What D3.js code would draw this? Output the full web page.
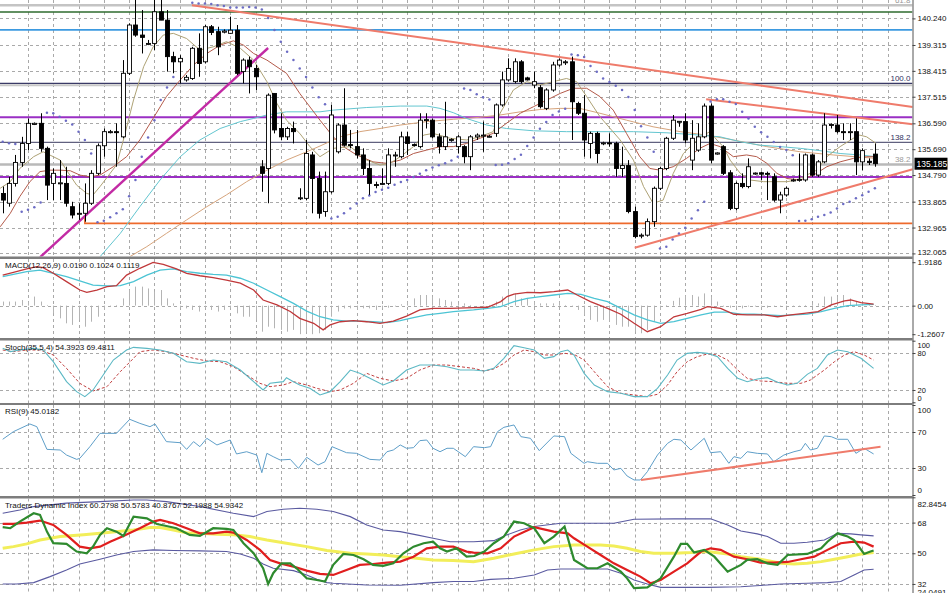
<!DOCTYPE html>
<html><head><meta charset="utf-8">
<script src="https://cdn.jsdelivr.net/npm/d3@7"></script>
<style>
html,body{margin:0;padding:0;background:#fff;overflow:hidden;}
svg{display:block;font-family:"Liberation Sans",Arial,sans-serif;}
</style></head><body>
<svg id="c" width="948" height="593"></svg>
<script>
// ---------- DATA ----------
// candles: [open, high, low, close]
const candles = [
[134.15,134.39,133.46,133.92],[133.81,134.73,133.69,134.50],[134.50,135.49,134.39,135.23],[135.23,136.12,135.08,135.89],
[135.89,136.76,135.66,136.59],[136.55,136.62,136.53,136.59],[136.59,136.94,135.60,135.72],[135.72,135.78,133.92,134.44],
[134.50,135.02,133.92,134.85],[134.50,135.31,133.92,134.52],[134.50,135.08,133.69,133.81],[133.69,133.86,133.28,133.40],
[133.44,133.81,133.23,133.46],[133.46,134.50,133.17,133.81],[133.81,134.96,133.75,134.85],[134.85,135.89,134.79,135.81],
[135.81,136.41,135.43,136.30],[136.28,136.36,136.24,136.30],[136.30,136.59,135.08,136.28],[136.12,138.79,136.07,138.33],
[138.33,140.07,138.27,140.01],[140.01,140.90,139.60,139.66],[139.66,140.53,139.02,139.58],[139.37,139.49,139.31,139.37],
[139.37,140.90,139.14,140.47],[140.47,140.90,140.18,140.18],[140.18,140.53,138.39,138.91],[138.91,139.08,138.33,138.73],
[138.73,138.96,137.98,138.85],[138.10,138.27,138.04,138.19],[138.15,139.25,138.10,139.20],[139.20,139.72,138.21,138.67],
[138.73,140.01,138.67,139.95],[139.95,140.01,139.66,139.75],[139.78,139.95,138.96,139.25],[139.76,139.86,139.72,139.80],
[139.72,140.30,139.70,139.83],[139.83,140.01,138.27,138.33],[138.39,138.85,137.98,138.79],[138.79,138.91,137.63,138.56],
[138.50,138.62,137.75,138.21],[135.08,135.31,134.21,134.85],[135.02,137.63,133.81,137.57],[137.63,137.63,136.24,136.36],
[136.41,136.94,136.01,136.12],[136.12,136.47,136.01,136.41],[136.41,136.65,135.89,136.30],[133.98,134.33,133.92,134.00],
[133.98,136.01,133.92,135.54],[135.49,135.60,133.46,134.67],[134.67,134.91,133.28,133.46],[133.52,134.91,133.34,134.21],
[134.21,137.23,134.15,136.88],[135.60,136.59,135.54,136.53],[136.53,137.81,135.78,135.83],[135.85,136.36,135.72,135.83],
[135.78,136.36,135.37,135.49],[135.49,135.72,134.79,135.02],[135.02,135.31,134.10,134.50],[134.46,134.56,134.33,134.44],
[134.48,135.02,134.44,134.50],[134.50,135.72,134.44,135.49],[135.47,135.60,135.08,135.49],[135.43,136.30,135.37,136.12],
[136.12,136.30,135.49,135.89],[135.85,135.89,135.78,135.83],[135.78,136.94,135.72,136.70],[136.70,136.94,136.41,136.72],
[136.70,136.76,136.07,136.12],[136.12,136.24,135.54,135.78],[135.78,137.34,135.66,136.12],[136.01,136.07,135.95,136.03],
[135.78,136.18,135.54,136.12],[135.78,135.83,135.20,135.43],[135.43,136.18,134.96,136.12],[136.12,136.24,136.01,136.18],
[136.16,136.65,135.60,136.18],[136.14,136.18,136.10,136.14],[136.24,137.28,136.12,137.23],[137.23,138.39,137.17,138.10],
[138.10,138.85,138.04,138.50],[138.04,138.85,137.98,138.73],[138.73,138.79,137.98,138.04],[138.17,138.21,138.08,138.10],
[137.92,138.39,137.81,138.04],[137.83,137.92,137.11,137.17],[137.11,137.81,137.05,137.75],[137.75,138.73,137.69,138.62],
[138.62,138.85,138.56,138.79],[138.71,138.79,138.62,138.73],[138.73,138.91,136.01,137.34],[137.28,137.34,136.88,136.94],
[136.94,137.57,135.43,136.01],[135.89,136.30,135.37,136.24],[136.24,136.30,135.20,135.54],[135.89,135.95,135.83,135.91],
[135.91,136.24,135.78,135.89],[135.89,135.95,134.73,135.02],[135.02,135.78,134.73,135.12],[135.12,135.31,133.46,133.52],
[133.52,133.69,132.59,132.65],[132.68,132.76,132.59,132.70],[132.70,133.28,132.65,133.17],[133.17,134.39,132.99,134.33],
[134.33,135.08,134.27,135.02],[135.02,136.12,134.96,136.07],[136.07,136.88,136.01,136.70],[136.64,136.67,136.47,136.66],
[136.65,136.94,135.89,136.01],[135.31,136.70,134.96,136.07],[135.66,136.59,135.60,136.12],[136.12,137.28,136.07,137.19],
[137.19,137.28,135.20,135.31],[135.52,135.58,135.50,135.56],[135.78,135.83,134.79,134.85],[134.87,134.96,133.57,133.63],
[133.63,134.56,133.57,134.50],[134.50,134.85,134.33,134.39],[134.39,135.37,134.33,135.08],[134.83,134.88,134.80,134.86],
[134.87,134.91,134.62,134.82],[134.85,134.91,133.92,134.84],[134.73,134.85,133.86,133.92],[133.92,134.21,133.46,134.10],
[134.10,134.39,134.04,134.33],[134.60,134.67,134.56,134.62],[134.62,135.54,134.56,134.64],[134.62,135.54,134.56,135.49],
[135.49,135.54,134.73,134.79],[134.79,135.31,134.73,135.25],[135.25,136.94,135.20,136.53],[136.53,136.59,136.41,136.55],
[136.53,136.88,136.24,136.30],[136.30,136.59,136.01,136.28],[136.30,136.59,136.01,136.30],[136.30,136.76,134.79,135.25],
[135.25,135.72,134.96,135.64],[135.27,135.37,135.14,135.23],[135.52,135.89,135.08,135.185]
];
// Parabolic SAR [bar, price]
const sar = [[0,135.95],[1,135.90],[2,135.87],[3,133.51],[4,133.58],[5,133.67],[6,133.84],[7,136.96],[8,136.94],[9,136.82],
[10,136.68],[11,136.55],[12,136.30],[13,136.01],[14,135.54],[15,133.15],[16,133.20],[17,133.32],[18,133.46],[19,133.60],
[20,134.05],[21,134.62],[22,135.43],[23,136.10],[24,136.70],[25,137.40],[26,137.84],[27,138.20],[30,140.78],[31,140.76],
[32,140.76],[33,140.74],[34,140.70],[35,140.67],[36,140.62],[37,140.62],[38,140.62],[39,140.64],[40,140.62],[41,140.55],
[42,140.25],[43,139.84],[44,139.43],[45,139.08],[46,138.79],[47,138.50],[48,138.20],[49,137.84],[50,137.50],[51,137.25],
[52,133.28],[53,133.34],[54,133.46],[55,133.63],[56,133.80],[57,133.98],[58,134.08],[59,134.20],[60,134.28],[61,134.35],
[62,134.45],[63,134.55],[64,134.62],[65,134.72],[66,134.84],[67,134.96],[68,135.05],[69,135.13],[70,135.20],[71,135.30],
[72,135.43],[73,137.80],[74,137.75],[75,137.60],[76,137.50],[77,137.42],[78,135.14],[79,135.15],[80,135.20],[81,135.35],
[82,135.50],[83,135.80],[84,136.10],[85,136.40],[86,136.64],[87,136.88],[88,137.00],[89,137.10],[90,138.98],[91,138.96],
[92,138.90],[93,138.58],[94,138.38],[95,138.15],[96,138.03],[97,137.90],[98,137.75],[99,137.51],[100,137.05],[101,136.49],
[102,136.10],[103,135.60],[104,132.24],[105,132.30],[106,132.55],[107,132.76],[108,132.96],[109,133.28],[110,133.57],[111,133.86],
[112,137.35],[113,137.43],[114,137.43],[115,137.34],[116,137.26],[117,136.99],[118,136.76],[119,136.47],[120,136.28],[121,136.12],
[122,135.94],[123,135.77],[124,135.66],[125,135.48],[126,133.19],[127,133.20],[128,133.25],[129,133.34],[130,133.40],[131,133.49],
[132,133.63],[133,133.78],[134,133.86],[135,133.98],[136,134.09],[137,134.21],[138,134.33]];
// Moving averages [bar, price]
const maFast = [[-0.4,134.33],[1.2,134.56],[2.7,135.02],[4.9,135.43],[6.4,135.60],[8.0,135.43],[9.1,135.31],[10.1,134.96],[11.7,134.44],[13.3,134.15],[14.3,134.10],[15.4,134.39],[17.0,134.85],[18.0,135.14],[19.1,136.01],[20.7,137.40],[22.3,138.56],[23.8,139.25],[25.4,139.66],[27.0,139.72],[29.1,139.54],[31.2,139.14],[33.3,139.25],[35.4,139.43],[37.6,139.20],[39.7,138.79],[41.8,138.04],[43.4,137.28],[44.9,136.70],[47.0,136.24],[48.6,135.78],[50.2,135.43],[52.3,135.72],[55.0,135.78],[57.6,135.31],[59.7,135.14],[61.3,135.20],[62.9,135.43],[65.0,135.78],[66.6,136.18],[68.1,136.24],[70.8,136.07],[73.4,136.01],[75.5,136.12],[77.6,136.30],[78.7,136.94],[80.8,137.75],[82.9,138.04],[85.0,137.92],[87.1,138.04],[89.2,138.15],[90.8,138.04],[92.4,137.52],[94.5,136.82],[97.7,136.01],[99.8,135.31],[101.4,134.39],[102.9,133.81],[104.5,133.92],[106.1,134.85],[107.7,135.54],[109.3,135.89],[110.9,136.18],[111.9,136.30],[113.0,136.01],[114.0,135.78],[115.1,135.31],[116.7,134.85],[118.2,134.62],[120.4,134.56],[122.5,134.56],[124.1,134.56],[125.6,134.62],[127.2,134.79],[128.8,134.96],[130.4,135.43],[132.5,135.78],[134.6,136.07],[135.6,136.18],[136.7,136.12],[138.2,135.89]];
const maMid = [[-0.4,132.99],[1.2,133.46],[2.7,134.04],[4.3,134.56],[5.9,134.91],[7.5,134.96],[9.1,134.96],[10.7,134.94],[12.2,134.79],[13.8,134.73],[15.4,134.79],[17.5,135.08],[19.6,135.43],[21.7,136.01],[23.8,136.76],[25.9,137.52],[28.1,138.10],[30.2,138.62],[32.3,139.02],[34.4,139.31],[36.5,139.46],[38.1,139.31],[39.7,139.02],[41.8,138.79],[44.9,138.33],[47.0,137.63],[50.2,136.70],[52.3,136.12],[53.9,135.78],[56.0,135.49],[58.6,135.25],[60.7,135.20],[62.9,135.31],[65.0,135.54],[67.1,135.66],[69.2,135.78],[71.3,135.78],[73.4,135.89],[75.5,136.07],[77.6,136.24],[79.7,136.59],[81.9,136.94],[84.0,137.17],[86.1,137.40],[88.2,137.63],[90.3,137.81],[92.4,137.81],[94.5,137.52],[96.6,137.05],[98.7,136.24],[100.8,135.43],[102.4,135.02],[104.0,134.96],[106.1,135.08],[108.2,135.37],[110.3,135.72],[111.9,135.89],[113.5,135.78],[115.6,135.43],[117.7,135.49],[119.3,135.43],[120.9,135.20],[122.5,134.85],[124.1,134.67],[126.2,134.62],[128.3,134.79],[130.4,135.08],[132.5,135.25],[134.6,135.37],[136.7,135.43],[138.2,135.43]];
const maSlow = [[15.4,131.95],[18.6,132.76],[21.7,133.69],[24.9,134.62],[28.1,135.43],[31.2,136.01],[34.4,136.41],[37.6,136.65],[39.7,136.76],[41.8,136.88],[44.9,136.99],[50.2,136.99],[52.3,137.05],[57.6,137.14],[62.9,137.19],[67.1,137.19],[69.2,137.11],[71.3,136.96],[73.4,136.76],[76.6,136.53],[79.7,136.41],[84.0,136.33],[89.2,136.30],[94.5,136.30],[99.8,136.30],[105.1,136.26],[110.3,136.18],[113.5,136.12],[116.7,135.95],[119.8,135.83],[123.0,135.78],[126.2,135.72],[129.3,135.64],[132.5,135.54],[135.6,135.49],[138.2,135.43]];
const maLong = [[20.1,131.95],[22.8,132.30],[25.9,132.76],[29.1,133.23],[32.3,133.69],[35.4,134.10],[38.6,134.56],[41.8,134.96],[44.9,135.31],[48.1,135.60],[50.2,135.80],[53.4,136.12],[56.5,136.30],[59.7,136.41],[62.9,136.53],[67.1,136.65],[71.3,136.73],[75.5,136.80],[78.7,136.88],[81.9,136.99],[85.0,137.07],[88.2,137.11],[91.3,137.11],[94.5,136.94],[98.7,136.70],[102.9,136.47],[107.2,136.30],[111.4,136.18],[115.6,136.01],[120.9,135.78],[126.2,135.60],[131.4,135.49],[138.2,135.37]];
// horizontal levels (price) and fibonacci labels
const levelPrices = [140.70, 140.46, 139.84, 137.98, 136.80, 135.93, 135.16, 134.72];
const supportLevel = [13, 133.11, 133.30];      // start bar, price, tick top
const fibLabels = [["61.8",140.70],["100.0",137.98],["138.2",135.93],["38.2",135.16]];
// trend lines [bar1, price1, bar2, price2]
const trendLines = [[29.95,140.70,144,137.16],[111.3,137.43,144,136.56],[100.0,132.26,144,134.99]];
const channelLine = [5.9,131.93,42.0,139.21];
const priceTicks = [140.240,139.315,138.415,137.515,136.590,135.690,134.790,133.865,132.965,132.065];
const lastPrice = 135.185;
// MACD
const macdLine = [[0,1.35],[1.7,1.47],[3.8,1.62],[5.4,1.72],[6.4,1.68],[8.0,1.43],[10.1,1.06],[12.2,0.69],[13.3,0.59],[14.9,0.69],[16.5,0.84],[18.0,0.88],[19.6,1.35],[21.7,1.65],[23.8,1.91],[25.4,1.82],[27.5,1.62],[29.1,1.43],[31.2,1.32],[33.3,1.24],[35.4,1.13],[37.6,0.99],[39.7,0.69],[41.2,0.25],[43.4,0.03],[45.5,-0.26],[47.0,-0.56],[49.2,-0.78],[50.7,-1.07],[51.8,-0.85],[53.4,-0.71],[55.5,-0.66],[57.6,-0.71],[59.7,-0.78],[61.8,-0.68],[63.9,-0.46],[66.0,-0.19],[68.1,-0.12],[70.8,-0.12],[74.5,-0.09],[76.7,-0.07],[78.8,0.18],[79.8,0.40],[80.9,0.51],[83.0,0.59],[85.1,0.57],[87.2,0.62],[89.4,0.69],[90.9,0.47],[93.0,0.18],[95.7,-0.12],[97.8,-0.38],[99.9,-0.78],[102.0,-1.15],[104.1,-0.93],[106.2,-0.49],[108.3,-0.34],[110.5,-0.16],[111.5,-0.04],[113.6,-0.12],[115.7,-0.38],[117.8,-0.41],[120.5,-0.41],[122.6,-0.49],[124.7,-0.41],[126.8,-0.34],[129.0,-0.26],[131.1,0.03],[133.2,0.21],[134.2,0.25],[135.8,0.13],[137.8,0.07]];
const macdSignal = [[0,1.28],[1.7,1.38],[3.8,1.50],[5.9,1.57],[8.0,1.43],[10.1,1.28],[12.2,1.09],[14.3,0.91],[16.5,0.87],[18.6,0.88],[20.7,1.06],[22.8,1.35],[24.9,1.57],[27.0,1.62],[29.1,1.50],[31.2,1.43],[33.3,1.38],[35.4,1.35],[37.6,1.21],[39.7,0.99],[41.8,0.69],[43.9,0.40],[46.0,0.10],[48.1,-0.24],[50.2,-0.49],[52.3,-0.63],[54.4,-0.68],[56.5,-0.68],[58.6,-0.71],[60.8,-0.75],[62.9,-0.66],[65.0,-0.53],[67.1,-0.41],[69.2,-0.34],[71.3,-0.26],[74.5,-0.19],[76.7,-0.12],[78.8,-0.04],[80.9,0.18],[83.0,0.32],[85.1,0.40],[87.2,0.47],[89.4,0.54],[91.5,0.50],[93.6,0.32],[95.7,0.18],[97.8,-0.12],[99.9,-0.41],[102.0,-0.63],[104.1,-0.78],[106.2,-0.71],[108.3,-0.56],[110.5,-0.41],[112.6,-0.29],[114.7,-0.29],[116.8,-0.37],[118.9,-0.38],[121.0,-0.41],[123.1,-0.44],[125.2,-0.41],[127.3,-0.37],[129.5,-0.26],[131.6,-0.12],[133.7,0.0],[135.8,0.03],[137.8,0.06]];
const macdHist = [0.18,0.18,0.18,0.25,0.18,0.40,0.18,0.03,-0.34,-0.56,-0.78,-0.85,-0.63,-0.93,-0.71,-0.49,-0.19,-0.04,0.03,0.32,
0.69,0.84,0.84,0.76,0.62,0.69,0.32,0.10,-0.12,-0.12,-0.19,-0.26,-0.12,-0.19,-0.26,-0.19,-0.12,-0.34,-0.49,-0.49,
-0.63,-1.15,-0.93,-1.00,-1.07,-1.15,-1.07,-1.26,-1.15,-1.26,-1.22,-1.07,-0.49,-0.26,-0.12,-0.12,-0.19,-0.12,-0.12,-0.19,
-0.12,-0.09,-0.04,0.06,0.18,0.32,0.47,0.47,0.40,0.32,0.25,0.18,0.10,0.10,0.03,0,-0.04,0.03,0.18,0.40,
0.62,0.54,0.32,0.32,0.18,0.10,0.10,0.10,0.18,0.03,-0.04,-0.19,-0.41,-0.63,-0.71,-0.63,-0.71,-0.85,-0.93,-0.93,
-1.15,-1.22,-1.07,-0.71,-0.19,0.03,0.21,0.35,0.44,0.47,0.40,0.54,0.40,0.18,-0.04,-0.09,-0.12,-0.12,-0.04,-0.04,
-0.04,-0.09,-0.04,-0.04,-0.04,-0.04,-0.04,0.03,0.10,0.10,0.40,0.40,0.40,0.47,0.32,0.18,0.10,0.03,0.03];
const macdTicks = [1.9186, 0.00, -1.2607];
// Stochastic
const stochMain = [[0,87.6],[1.2,82.2],[2.7,84.9],[4.9,87.6],[6.4,84.9],[8.0,65.9],[10.1,33.5],[11.7,17.3],[13.0,9.2],[14.3,20.0],[15.9,44.3],[17.5,68.6],[19.6,84.9],[20.7,89.2],[22.8,87.6],[24.9,84.9],[27.0,79.5],[29.1,65.9],[31.2,63.2],[33.3,68.6],[35.4,65.9],[37.6,52.4],[39.7,33.5],[41.2,20.0],[42.3,30.8],[44.4,33.5],[44.9,40.0],[46.0,33.5],[47.0,28.1],[48.6,22.7],[50.2,11.9],[51.8,17.3],[53.4,33.5],[55.0,52.4],[56.5,47.0],[58.1,38.9],[60.2,28.1],[61.8,34.6],[63.9,52.4],[66.0,60.5],[68.1,60.5],[70.3,57.8],[72.4,52.4],[74.5,52.4],[76.2,50.8],[77.7,55.1],[79.3,71.4],[80.9,91.9],[82.5,88.6],[84.1,84.9],[85.7,71.4],[87.2,74.1],[88.3,82.2],[89.4,84.9],[90.4,76.8],[92.0,47.0],[93.6,28.1],[95.7,17.3],[97.8,14.6],[99.9,9.2],[102.0,9.2],[103.6,22.7],[105.2,44.3],[106.7,68.6],[108.3,79.5],[109.9,81.1],[111.5,79.5],[113.1,74.1],[114.7,55.1],[116.3,38.9],[117.8,33.5],[119.4,37.8],[121.0,40.0],[122.6,32.4],[124.2,28.1],[125.7,30.8],[127.3,45.4],[128.9,55.1],[130.5,76.8],[132.1,84.9],[133.7,82.2],[135.8,71.4],[137.8,55.1]];
const stochSignal = [[0,84.9],[1.7,82.2],[3.8,84.9],[5.9,84.9],[8.0,76.8],[10.1,55.1],[12.2,30.8],[14.3,18.4],[16.5,25.4],[18.6,49.7],[20.7,71.4],[21.7,82.2],[23.8,84.9],[25.9,82.2],[28.1,76.8],[30.2,71.4],[32.3,67.0],[34.4,65.9],[36.5,57.8],[38.6,44.3],[40.7,30.8],[42.3,25.4],[44.4,28.1],[46.0,33.5],[48.1,28.1],[49.7,22.7],[51.8,17.3],[53.4,20.0],[55.5,30.8],[57.6,47.0],[59.7,38.9],[61.8,34.6],[63.9,38.9],[66.0,52.4],[68.1,60.5],[70.3,60.5],[72.4,57.8],[74.5,55.1],[76.2,50.8],[77.7,54.1],[79.3,63.2],[80.9,76.8],[82.5,84.9],[84.1,82.2],[85.7,76.8],[87.2,76.8],[88.9,79.5],[90.4,77.8],[92.0,68.6],[93.6,49.7],[95.7,25.4],[97.8,14.6],[99.9,11.9],[102.0,9.2],[103.6,13.0],[105.2,28.1],[106.7,49.7],[108.3,65.9],[109.9,74.1],[111.5,78.4],[113.1,76.8],[114.7,68.6],[116.3,52.4],[117.8,38.9],[119.9,34.6],[122.0,33.5],[124.2,30.8],[126.3,30.8],[127.8,36.2],[130.0,52.4],[131.6,65.9],[133.2,76.8],[134.7,82.2],[136.3,76.8],[137.8,68.6]];
const stochTicks = [100, 80, 20, 0];
// RSI
const rsi = [[0,61.9],[1.7,70.4],[4.3,78.9],[5.4,75.9],[7.0,50.7],[9.1,50.0],[10.1,44.4],[11.7,39.6],[12.2,40.7],[13.8,53.7],[15.4,68.5],[18.0,68.5],[20.1,84.1],[21.7,79.6],[23.3,75.9],[24.1,78.9],[25.9,59.3],[28.1,58.1],[29.1,50.7],[30.2,59.3],[31.2,53.7],[32.3,63.0],[33.9,55.6],[36.0,61.1],[37.0,45.6],[38.6,48.1],[40.2,44.4],[41.0,24.8],[41.8,46.3],[42.8,42.6],[43.9,38.9],[45.5,39.6],[46.8,29.6],[48.1,41.9],[49.9,33.3],[51.0,37.0],[52.1,53.7],[54.4,47.0],[56.0,46.3],[58.1,39.6],[59.7,38.9],[60.8,48.1],[61.8,50.0],[62.9,55.6],[63.9,51.9],[65.0,52.6],[66.0,60.4],[67.1,61.1],[68.1,51.9],[69.2,48.1],[70.3,51.9],[71.3,51.9],[73.2,42.6],[74.5,53.7],[76.2,52.6],[77.2,53.7],[78.3,70.4],[79.3,75.2],[80.9,77.8],[82.0,64.8],[83.5,63.0],[84.9,49.3],[87.2,65.6],[88.9,64.8],[89.9,46.3],[92.0,35.2],[92.5,37.0],[94.1,35.2],[95.7,35.2],[96.7,27.8],[97.8,29.6],[98.8,21.1],[99.9,16.7],[100.9,16.7],[102.0,25.9],[103.6,44.4],[105.2,57.4],[106.2,61.9],[107.3,61.1],[108.9,50.0],[111.0,63.0],[112.0,47.0],[113.6,48.1],[114.9,35.2],[115.7,42.6],[116.8,40.7],[117.8,48.1],[119.4,46.3],[121.0,45.6],[122.0,37.0],[123.6,44.4],[125.2,48.1],[126.3,50.0],[127.0,57.4],[127.8,50.0],[128.9,51.9],[130.0,65.6],[131.1,64.8],[132.1,61.9],[133.7,61.9],[135.0,46.3],[136.3,51.9],[137.8,45.6]];
const rsiTrend = [101.0,16.7,138.9,53.7];
const rsiTicks = [100, 70, 30, 0];
// Traders Dynamic Index
const tdiUpper = [[0,73.5],[2.7,75.4],[4.9,77.4],[7.5,78.4],[10.1,79.4],[15.4,80.3],[20.7,81.3],[22.8,81.3],[25.9,80.3],[31.2,77.4],[36.5,73.5],[39.7,71.5],[41.8,74.5],[44.4,75.8],[47.0,76.4],[49.7,75.8],[52.3,74.5],[55.0,71.5],[57.6,66.6],[60.2,63.7],[62.9,62.7],[65.5,60.8],[68.1,58.8],[70.8,56.8],[74.5,56.8],[77.7,57.4],[79.8,60.8],[81.9,63.7],[84.1,65.7],[88.3,67.6],[96.7,67.6],[99.9,70.0],[106.2,70.2],[112.0,70.2],[114.7,66.6],[116.8,63.1],[119.4,61.4],[121.0,59.8],[123.1,55.9],[125.2,55.9],[127.3,56.5],[130.0,57.8],[132.1,61.7],[134.2,61.4],[135.8,60.8],[137.8,60.2]];
const tdiLower = [[0,32.0],[2.2,32.0],[4.9,32.8],[7.5,36.3],[10.1,40.2],[12.2,43.7],[15.4,46.5],[18.0,49.0],[20.7,51.0],[23.8,52.0],[27.0,51.6],[31.2,51.4],[35.4,51.0],[37.6,49.6],[39.7,47.1],[41.2,43.7],[42.8,41.2],[46.0,39.8],[48.1,37.3],[49.7,34.7],[51.3,32.8],[52.3,32.4],[57.6,31.4],[62.9,31.2],[68.1,32.8],[71.3,33.4],[74.5,33.4],[77.2,34.7],[80.9,35.3],[84.1,37.3],[86.2,40.2],[88.3,40.8],[95.7,40.8],[97.8,38.3],[99.9,34.3],[102.0,32.0],[104.1,30.0],[111.5,30.0],[116.8,30.4],[121.0,31.4],[123.1,32.0],[127.3,32.4],[130.5,32.8],[132.6,33.4],[134.7,37.3],[136.3,40.2],[137.8,40.6]];
const tdiBase = [[0,52.9],[1.7,53.9],[3.8,55.5],[5.9,57.8],[9.1,59.8],[12.8,60.8],[15.4,61.7],[20.7,63.7],[23.3,65.1],[24.9,65.1],[27.0,63.7],[29.1,62.1],[31.2,61.7],[33.9,61.2],[36.5,60.8],[39.1,59.8],[41.8,57.8],[44.9,55.9],[48.1,53.9],[51.3,51.6],[55.0,50.0],[57.6,49.6],[60.2,49.0],[62.9,48.0],[65.5,47.1],[68.1,46.1],[71.3,45.7],[74.5,45.1],[77.7,47.1],[80.9,49.6],[84.1,52.0],[87.2,53.9],[90.4,54.9],[94.6,54.9],[96.7,54.3],[98.8,52.9],[100.9,51.0],[103.0,50.0],[106.2,50.0],[108.9,50.4],[111.5,51.0],[114.7,49.6],[116.8,48.0],[119.9,46.5],[123.1,44.1],[125.2,43.7],[127.3,44.1],[129.5,45.1],[131.6,46.5],[133.7,48.0],[135.8,49.6],[137.8,50.4]];
const tdiSignal = [[0,67.2],[1.7,67.2],[3.8,68.0],[5.9,69.2],[8.0,66.6],[10.1,60.8],[12.2,53.9],[13.8,52.9],[15.4,53.9],[17.0,56.8],[19.1,60.2],[21.7,64.7],[23.8,68.6],[24.9,69.6],[27.0,67.6],[29.1,64.7],[31.2,61.7],[33.3,61.7],[35.4,62.7],[36.5,62.1],[38.6,57.8],[40.7,52.0],[42.3,46.1],[43.9,44.1],[46.0,42.2],[48.1,39.8],[50.2,37.9],[52.3,37.3],[54.4,40.2],[56.5,43.2],[58.6,43.7],[60.8,44.5],[62.9,45.1],[65.0,48.0],[67.1,52.9],[69.2,53.9],[71.3,53.9],[73.4,51.0],[74.5,50.4],[76.7,50.0],[78.8,52.9],[80.9,59.8],[84.1,65.3],[87.2,62.7],[89.4,61.7],[90.4,58.8],[92.5,53.9],[94.6,49.0],[96.7,44.1],[98.8,40.2],[100.9,36.3],[102.5,32.4],[104.1,34.3],[106.2,39.2],[108.3,44.1],[110.5,51.0],[112.0,52.9],[113.6,52.0],[115.7,48.0],[117.8,46.5],[119.9,44.5],[122.0,44.5],[124.2,44.9],[126.3,46.5],[128.4,48.0],[130.5,52.0],[132.6,55.9],[134.7,56.8],[136.3,56.3],[137.8,53.9]];
const tdiPrice = [[0,65.3],[1.2,64.7],[2.7,68.6],[4.9,73.5],[5.9,72.5],[7.0,62.7],[8.0,55.9],[10.1,55.5],[11.7,51.0],[13.3,50.0],[14.3,53.9],[15.4,60.8],[16.5,64.7],[18.0,62.7],[19.1,60.2],[20.7,71.5],[22.8,70.5],[24.4,67.2],[25.9,66.0],[27.5,64.7],[29.6,60.8],[31.2,60.2],[33.3,64.7],[35.4,64.3],[36.5,63.7],[38.1,55.9],[39.7,50.0],[41.2,41.2],[42.0,32.0],[42.8,38.3],[44.1,44.1],[45.5,44.1],[46.5,41.2],[48.1,35.3],[49.7,34.3],[51.0,33.4],[52.3,43.2],[53.9,49.6],[55.5,49.0],[57.1,46.5],[58.6,43.2],[60.2,42.6],[61.8,44.1],[63.4,50.0],[65.0,53.9],[66.6,55.9],[68.1,56.8],[69.2,52.9],[70.3,51.0],[71.8,52.9],[73.4,48.0],[74.6,48.4],[76.2,51.0],[77.7,55.9],[79.3,59.8],[80.9,68.6],[82.5,67.6],[84.1,64.7],[85.7,55.9],[87.2,59.8],[88.9,65.7],[90.4,46.1],[92.5,41.2],[94.1,41.2],[95.7,44.1],[97.8,39.2],[98.8,35.3],[99.9,29.5],[102.0,30.0],[104.1,35.3],[106.2,48.0],[107.3,55.5],[108.3,55.5],[109.4,50.4],[111.0,52.0],[112.6,48.0],[114.7,39.2],[116.8,43.2],[117.8,46.1],[119.4,46.5],[121.0,44.1],[122.6,43.2],[124.2,49.0],[127.3,49.6],[129.5,52.9],[130.5,56.8],[132.1,61.7],[133.7,59.8],[134.7,57.8],[136.3,49.6],[137.3,51.0],[137.8,51.6]];
const tdiTicks = [82.8454, 68, 50, 32, 24.0491];
const titles = ["MACD(12,26,9) 0.0190 0.1024 0.1119","Stoch(35,5,4) 54.3923 69.4811","RSI(9) 45.0182","Traders Dynamic Index 60.2798 50.5783 40.8767 52.1988 54.9342"];

// ---------- LAYOUT ----------
const svg = d3.select("#c");
const AX = 912.5;
const x = d3.scaleLinear().domain([0,144]).range([2.7, 912.8]);
const P = {
  main:{top:0,bottom:256.5,y:d3.scaleLinear().domain([131.94,140.88]).range([257,0])},
  macd:{top:259,bottom:338,y:d3.scaleLinear().domain([-1.2607,1.9186]).range([334.2,262.2])},
  stoch:{top:340.5,bottom:403,y:d3.scaleLinear().domain([0,100]).range([402.3,340.7])},
  rsi:{top:405,bottom:496,y:d3.scaleLinear().domain([0,100]).range([495,405])},
  tdi:{top:498.5,bottom:600,y:d3.scaleLinear().domain([24.0491,82.8454]).range([597.5,497.3])}
};
svg.append("rect").attr("width",948).attr("height",593).attr("fill","#fff");
const defs = svg.append("defs");
Object.entries(P).forEach(([k,p])=>{
  defs.append("clipPath").attr("id","clip-"+k).append("rect")
    .attr("x",0).attr("y",p.top).attr("width",AX).attr("height",p.bottom-p.top);
  p.g = svg.append("g").attr("clip-path","url(#clip-"+k+")");
});
// grid
const gridBars = d3.range(4,144,4);
const gridColor = "#a9a9a9";
Object.values(P).forEach(p=>{
  p.g.selectAll(null).data(gridBars).join("line")
    .attr("x1",d=>Math.round(x(d))+0.5).attr("x2",d=>Math.round(x(d))+0.5)
    .attr("y1",p.top).attr("y2",p.bottom)
    .attr("stroke",gridColor).attr("stroke-dasharray","3,3").attr("stroke-width",1);
});
function hgrid(p, vals){
  p.g.selectAll(null).data(vals).join("line")
    .attr("x1",0).attr("x2",AX)
    .attr("y1",d=>Math.round(p.y(d))+0.5).attr("y2",d=>Math.round(p.y(d))+0.5)
    .attr("stroke",gridColor).attr("stroke-dasharray","3,3");
}
hgrid(P.main, priceTicks);
hgrid(P.macd, [0]);
hgrid(P.stoch, [80,20]);
hgrid(P.rsi, [70,30]);
hgrid(P.tdi, [68,50,32]);

const lineGen = (p)=> d3.line().x(d=>x(d[0])).y(d=>p.y(d[1]));

// ---------- MAIN ----------
const M = P.main, mg = M.g;
const levelStyle = [
  {c:"#c4c4c4",w:2.5},{c:"#2e6b2e",w:1.5},{c:"#3d9ae0",w:1.6},{c:"#3a3a66",w:1.2},
  {c:"#9a2fc4",w:2},{c:"#3a3a60",w:1},{c:"#b9b9b9",w:2.5},{c:"#9a2fc4",w:2}];
levelPrices.forEach((pr,i)=>{
  mg.append("line").attr("x1",0).attr("x2",AX)
    .attr("y1",M.y(pr)).attr("y2",M.y(pr))
    .attr("stroke",levelStyle[i].c).attr("stroke-width",levelStyle[i].w);
});
mg.append("line").attr("x1",0).attr("x2",AX)
  .attr("y1",M.y(levelPrices[3])+2).attr("y2",M.y(levelPrices[3])+2)
  .attr("stroke","#c8c8c8").attr("stroke-width",2);
mg.append("path").attr("fill","none").attr("stroke","#ee6a2c").attr("stroke-width",1.6)
  .attr("d",`M${x(supportLevel[0])},${M.y(supportLevel[2])}V${M.y(supportLevel[1])}H${AX}`);
[[maLong,"#d6a47c"],[maSlow,"#63c6d0"],[maMid,"#b45a4a"],[maFast,"#aea275"]].forEach(([d,c])=>{
  mg.append("path").datum(d).attr("fill","none").attr("stroke",c).attr("stroke-width",1).attr("d",lineGen(M));
});
trendLines.forEach(t=>{
  mg.append("line").attr("x1",x(t[0])).attr("y1",M.y(t[1])).attr("x2",x(t[2])).attr("y2",M.y(t[3]))
    .attr("stroke","#ef7b6b").attr("stroke-width",2);
});
mg.append("line").attr("x1",x(channelLine[0])).attr("y1",M.y(channelLine[1]))
  .attr("x2",x(channelLine[2])).attr("y2",M.y(channelLine[3]))
  .attr("stroke","#c22aa4").attr("stroke-width",2.4);
mg.selectAll(null).data(sar).join("circle")
  .attr("cx",d=>x(d[0])).attr("cy",d=>M.y(d[1])).attr("r",1.25).attr("fill","#6c6cc4");
const cg = mg.append("g");
candles.forEach((c,i)=>{
  const cx = Math.round(x(i))+0.5;
  cg.append("line").attr("x1",cx).attr("x2",cx).attr("y1",M.y(c[1])).attr("y2",M.y(c[2]))
    .attr("stroke","#000").attr("stroke-width",1);
  const top = M.y(Math.max(c[0],c[3])), bot = M.y(Math.min(c[0],c[3]));
  const up = c[3]>=c[0];
  cg.append("rect").attr("x",cx-2).attr("width",4)
    .attr("y",top).attr("height",Math.max(1,bot-top))
    .attr("fill",up?"#fff":"#000").attr("stroke","#000").attr("stroke-width",0.9);
});
fibLabels.forEach(([t,pr],i)=>{
  svg.append("text").attr("x",AX-2).attr("y",M.y(pr)-2).attr("text-anchor","end")
    .attr("font-size",8).attr("fill",(i===0||i===3)?"#9a9a9a":"#303060").text(t);
});

// ---------- MACD ----------
const Mc = P.macd;
Mc.g.selectAll(null).data(macdHist).join("line")
  .attr("x1",(d,i)=>Math.round(x(i))+0.5).attr("x2",(d,i)=>Math.round(x(i))+0.5)
  .attr("y1",Mc.y(0)).attr("y2",d=>Mc.y(d)).attr("stroke","#b4b4b4").attr("stroke-width",1);
Mc.g.append("path").datum(macdSignal).attr("fill","none").attr("stroke","#4cc4d4").attr("stroke-width",1.3).attr("d",lineGen(Mc));
Mc.g.append("path").datum(macdLine).attr("fill","none").attr("stroke","#c0383a").attr("stroke-width",1.3).attr("d",lineGen(Mc));

// ---------- STOCH ----------
const S = P.stoch;
S.g.append("path").datum(stochSignal).attr("fill","none").attr("stroke","#c04040").attr("stroke-dasharray","3,2").attr("d",lineGen(S));
S.g.append("path").datum(stochMain).attr("fill","none").attr("stroke","#5cb8c4").attr("stroke-width",1.1).attr("d",lineGen(S));

// ---------- RSI ----------
const R = P.rsi;
R.g.append("path").datum(rsi).attr("fill","none").attr("stroke","#5e9ec8").attr("stroke-width",1).attr("d",lineGen(R));
R.g.append("line").attr("x1",x(rsiTrend[0])).attr("y1",R.y(rsiTrend[1])).attr("x2",x(rsiTrend[2])).attr("y2",R.y(rsiTrend[3]))
  .attr("stroke","#ef7b6b").attr("stroke-width",2);

// ---------- TDI ----------
const T = P.tdi;
[[tdiUpper,"#5a5aa0",1.1],[tdiLower,"#5a5aa0",1.1],[tdiBase,"#f2ee5a",3],[tdiSignal,"#e01e1e",2.2],[tdiPrice,"#2e8a2e",2.2]].forEach(([d,c,w])=>{
  T.g.append("path").datum(d).attr("fill","none").attr("stroke",c).attr("stroke-width",w).attr("d",lineGen(T));
});

// ---------- separators ----------
[[256.5,259],[338,340.5],[403,405],[496,498.5]].forEach(([a,b])=>{
  svg.append("rect").attr("x",0).attr("y",a).attr("width",AX).attr("height",b-a).attr("fill","#7d7d7d");
});

// ---------- AXES ----------
function rightAxis(p, vals, fmt, clampTop, clampBot, fs){
  const g = svg.append("g").attr("transform",`translate(${AX},0)`)
    .call(d3.axisRight(p.y).tickValues(vals).tickSize(3).tickSizeOuter(0).tickFormat(fmt));
  g.select(".domain").remove();
  g.selectAll("line").attr("stroke","#444");
  g.selectAll("text").attr("font-size",fs||8).attr("fill","#111").attr("x",5)
    .attr("font-family",'"Liberation Sans",Arial,sans-serif');
  g.selectAll(".tick").each(function(d){
    const yy = p.y(d);
    let dy = 0;
    if (yy < clampTop) dy = clampTop-yy;
    if (yy > clampBot) dy = clampBot-yy;
    d3.select(this).select("text").attr("transform",`translate(0,${dy})`);
  });
}
svg.append("line").attr("x1",AX+0.5).attr("x2",AX+0.5).attr("y1",0).attr("y2",593).attr("stroke","#555");
rightAxis(M, priceTicks, d3.format(".3f"), 4, 252);
rightAxis(Mc, macdTicks, d=>d===0?"0.00":String(d), 262, 334);
rightAxis(P.stoch, stochTicks, d3.format("d"), 345, 398.5, 7.5);
rightAxis(R, rsiTicks, d3.format("d"), 410, 490);
rightAxis(T, tdiTicks, d=>String(d), 504, 592);

// last price tag
svg.append("rect").attr("x",AX+2).attr("y",M.y(lastPrice)-6).attr("width",33).attr("height",12).attr("fill","#000");
svg.append("text").attr("x",AX+4).attr("y",M.y(lastPrice)+3).attr("font-size",8.5).attr("fill","#fff").text(d3.format(".3f")(lastPrice));

// titles
[[P.macd,titles[0]],[P.stoch,titles[1]],[P.rsi,titles[2]],[P.tdi,titles[3]]].forEach(([p,t])=>{
  svg.append("text").attr("x",5).attr("y",p.top+9).attr("font-size",8).attr("fill","#111").text(t);
});
</script>
</body></html>
